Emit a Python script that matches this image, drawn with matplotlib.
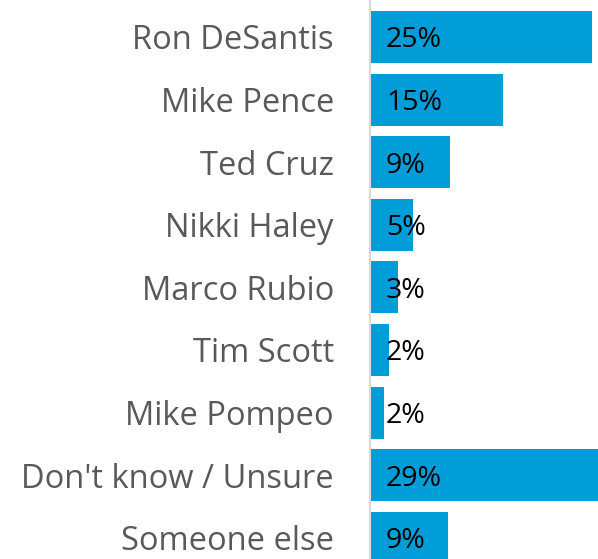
import matplotlib
matplotlib.use("Agg")
import matplotlib.pyplot as plt

names = ["Ron DeSantis", "Mike Pence", "Ted Cruz", "Nikki Haley", "Marco Rubio",
         "Tim Scott", "Mike Pompeo", "Don't know / Unsure", "Someone else"]
values = [25, 15, 9, 4.9, 3.2, 2.1, 1.6, 29, 8.8]
labels = ["25%", "15%", "9%", "5%", "3%", "2%", "2%", "29%", "9%"]

plt.rcParams['font.family'] = ['Open Sans', 'DejaVu Sans']

W, H = 598, 559
fig = plt.figure(figsize=(W / 100, H / 100), dpi=100)
ax = fig.add_axes([370 / W, 0, 1 - 370 / W, 1])

pos = list(range(len(names)))
ax.barh(pos, values, height=0.83, color='#009DD9', zorder=2)

ax.set_xlim(0, 25.7)
ax.set_ylim(8.339, -0.591)

for i, (v, lab) in enumerate(zip(values, labels)):
    ax.annotate(lab, (0, i), xytext=(11.5, 0), textcoords='offset points',
                ha='left', va='center_baseline', fontsize=20.5, color='black', zorder=3)

ax.set_yticks(pos)
ax.set_yticklabels(names, fontsize=23.5, color='#595959')
ax.tick_params(axis='y', length=0, pad=26)
ax.set_xticks([])

for s in ['top', 'right', 'bottom']:
    ax.spines[s].set_visible(False)
ax.spines['left'].set_color('#d9d9d9')
ax.spines['left'].set_linewidth(1.5)

fig.savefig('out.png', dpi=100)
